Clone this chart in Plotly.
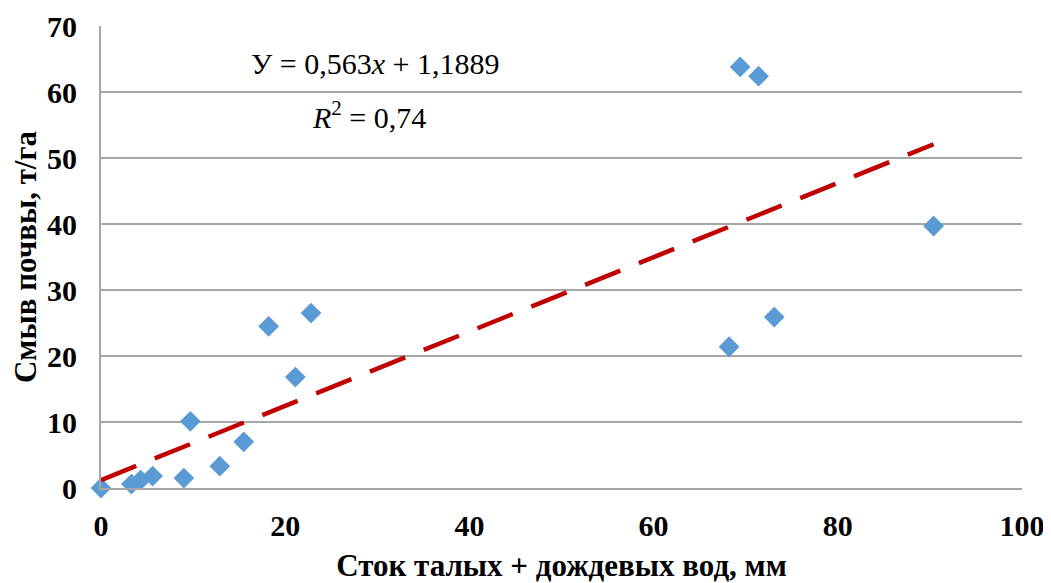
import plotly.graph_objects as go

runoff_mm = [0, 3.3, 4.3, 5.6, 9.0, 9.7, 12.9, 15.5, 18.2, 21.1, 22.8, 68.2, 69.4, 71.4, 73.1, 90.4]
soil_loss = [0, 0.6, 1.2, 1.8, 1.5, 10.1, 3.3, 7.0, 24.5, 16.8, 26.5, 21.4, 63.8, 62.4, 25.9, 39.7]
slope = 0.563
intercept = 1.1889
trend_x = [0, 90.4]
trend_y = [slope * v + intercept for v in trend_x]

x_ticks = [0, 20, 40, 60, 80, 100]
y_ticks = [0, 10, 20, 30, 40, 50, 60, 70]

font_family = "Liberation Serif, Times New Roman, serif"

fig = go.Figure()
fig.add_trace(go.Scatter(
    x=runoff_mm, y=soil_loss, mode="markers",
    marker=dict(symbol="diamond", size=16, color="#5B9BD5"),
    showlegend=False, cliponaxis=False,
))
fig.add_trace(go.Scatter(
    x=trend_x, y=trend_y, mode="lines",
    line=dict(color="#C00000", width=4.5, dash="38px,20px"),
    showlegend=False,
))

fig.add_annotation(x=0.2975, y=0.918, xref="paper", yref="paper", xanchor="center", yanchor="middle",
                   text="У = 0,563<i>x</i> + 1,1889", showarrow=False,
                   font=dict(family=font_family, size=30, color="black"))
fig.add_annotation(x=0.291, y=0.807, xref="paper", yref="paper", xanchor="center", yanchor="middle",
                   text="<i>R</i><sup>2</sup> = 0,74", showarrow=False,
                   font=dict(family=font_family, size=30, color="black"))

fig.update_layout(
    width=1043, height=575,
    margin=dict(l=93, r=29, t=18, b=95, autoexpand=False),
    plot_bgcolor="white", paper_bgcolor="white",
    font=dict(family=font_family, color="black"),
    xaxis=dict(
        range=[0, 100], tickvals=x_ticks, ticktext=[f"<b>{v}</b>" for v in x_ticks],
        showgrid=False, automargin=False,
        showline=True, linecolor="#A6A6A6", linewidth=2,
        tickfont=dict(size=30, family=font_family, color="black"),
        title=dict(text="<b>Сток талых + дождевых вод, мм</b>", standoff=14,
                   font=dict(size=31, family=font_family, color="black")),
        zeroline=False, ticks="outside", ticklen=10, tickcolor="rgba(0,0,0,0)",
    ),
    yaxis=dict(
        range=[0, 70], tickvals=y_ticks, ticktext=[f"<b>{v}</b>" for v in y_ticks],
        showgrid=True, gridcolor="#A6A6A6", gridwidth=2, automargin=False,
        showline=True, linecolor="#A6A6A6", linewidth=2,
        tickfont=dict(size=30, family=font_family, color="black"),
        title=dict(text="<b>Смыв почвы, т/га</b>", standoff=6,
                   font=dict(size=31, family=font_family, color="black")),
        zeroline=False, ticks="outside", ticklen=16, tickcolor="rgba(0,0,0,0)",
    ),
)

fig.write_html("out.html")
